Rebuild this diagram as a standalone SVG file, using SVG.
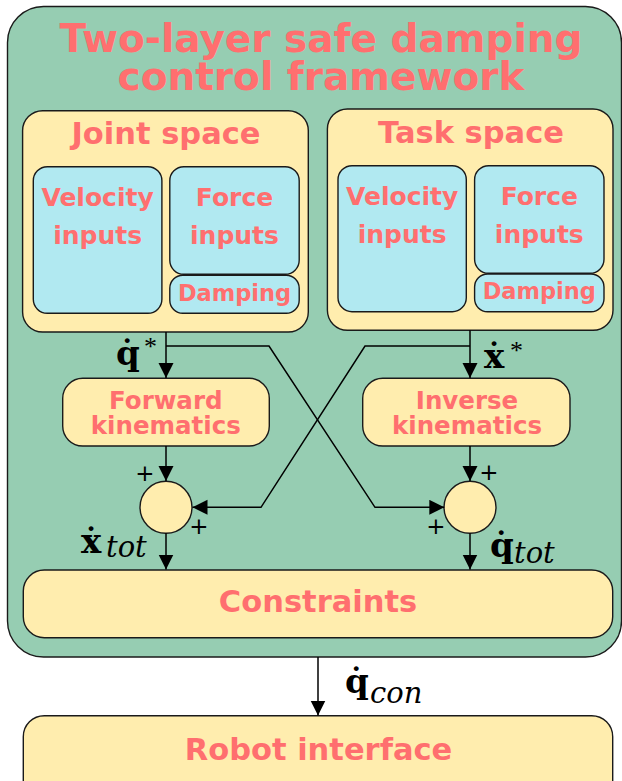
<svg xmlns="http://www.w3.org/2000/svg" width="622" height="781" viewBox="0 0 622 781">
  <style>
    .box { stroke: #1a1a1a; stroke-width: 1.4; }
    .green { fill: #96cdb2; }
    .yellow { fill: #ffedae; }
    .cyan { fill: #b1e9f1; }
    .lbl { font-family: "DejaVu Sans", "Liberation Sans", sans-serif; font-weight: bold; fill: #ff6f6f; text-anchor: middle; }
    .conn { fill: none; stroke: #000; stroke-width: 1.5; }
    .mb { font-family: "DejaVu Serif", "Liberation Serif", serif; font-weight: bold; font-size: 34px; fill: #000; }
    .mi { font-family: "DejaVu Serif", "Liberation Serif", serif; font-weight: normal; font-style: italic; font-size: 29px; }
    .star { font-family: "Liberation Serif", serif; font-weight: normal; font-size: 26px; }
    .plus { font-family: "DejaVu Sans", sans-serif; font-size: 23px; fill: #000; text-anchor: middle; }
  </style>
  <defs>
    <marker id="arrow" markerUnits="userSpaceOnUse" markerWidth="16" markerHeight="16" refX="15" refY="7.5" orient="auto">
      <path d="M0,0 L15,7.5 L0,15 z" fill="#000"/>
    </marker>
  </defs>

  <g id="framework">
    <rect class="box green" x="7.5" y="6.5" width="614" height="650.5" rx="36"/>
    <text class="lbl" x="321" y="52" font-size="39">Two-layer safe damping</text>
    <text class="lbl" x="321" y="90" font-size="39">control framework</text>
  </g>

  <g id="joint-space">
    <rect class="box yellow" x="22.6" y="110.7" width="285.7" height="221.3" rx="20"/>
    <text class="lbl" x="166" y="143.5" font-size="30.5">Joint space</text>
  </g>
  <g id="joint-velocity-inputs">
    <rect class="box cyan" x="33.3" y="166.7" width="128.6" height="146.6" rx="14"/>
    <text class="lbl" x="97.6" y="206" font-size="25">Velocity</text>
    <text class="lbl" x="97.6" y="244" font-size="25">inputs</text>
  </g>
  <g id="joint-force-inputs">
    <rect class="box cyan" x="169.8" y="166.7" width="129.4" height="107.6" rx="14"/>
    <text class="lbl" x="234.5" y="206" font-size="25">Force</text>
    <text class="lbl" x="234.5" y="244" font-size="25">inputs</text>
  </g>
  <g id="joint-damping">
    <rect class="box cyan" x="169.8" y="275.3" width="129.4" height="38" rx="13"/>
    <text class="lbl" x="234.5" y="300.5" font-size="22.5">Damping</text>
  </g>

  <g id="task-space">
    <rect class="box yellow" x="327.4" y="109" width="285.6" height="221.3" rx="20"/>
    <text class="lbl" x="471" y="142.5" font-size="30.5">Task space</text>
  </g>
  <g id="task-velocity-inputs">
    <rect class="box cyan" x="338" y="165.7" width="128.3" height="146" rx="14"/>
    <text class="lbl" x="402.2" y="204.7" font-size="25">Velocity</text>
    <text class="lbl" x="402.2" y="242.7" font-size="25">inputs</text>
  </g>
  <g id="task-force-inputs">
    <rect class="box cyan" x="474.6" y="165.7" width="129.4" height="107.6" rx="14"/>
    <text class="lbl" x="539.3" y="204.7" font-size="25">Force</text>
    <text class="lbl" x="539.3" y="242.7" font-size="25">inputs</text>
  </g>
  <g id="task-damping">
    <rect class="box cyan" x="474.6" y="274" width="129.4" height="37.7" rx="13"/>
    <text class="lbl" x="539.3" y="299" font-size="22.5">Damping</text>
  </g>

  <g id="forward-kinematics">
    <rect class="box yellow" x="62.7" y="378.3" width="206.6" height="67.7" rx="20"/>
    <text class="lbl" x="165.8" y="409.3" font-size="24.5">Forward</text>
    <text class="lbl" x="165.8" y="434" font-size="24.5">kinematics</text>
  </g>
  <g id="inverse-kinematics">
    <rect class="box yellow" x="362.7" y="378.3" width="207.3" height="67.7" rx="20"/>
    <text class="lbl" x="467" y="409.3" font-size="24.5">Inverse</text>
    <text class="lbl" x="467" y="434" font-size="24.5">kinematics</text>
  </g>

  <g id="sum-left">
    <circle class="box yellow" cx="166" cy="507.3" r="26"/>
  </g>
  <g id="sum-right">
    <circle class="box yellow" cx="470" cy="507.3" r="26"/>
  </g>

  <g id="constraints">
    <rect class="box yellow" x="23.3" y="570" width="589.4" height="67.7" rx="21"/>
    <text class="lbl" x="318" y="611.7" font-size="30.5">Constraints</text>
  </g>

  <g id="robot-interface">
    <rect class="box yellow" x="23.3" y="715.7" width="589.4" height="90" rx="21"/>
    <text class="lbl" x="318.5" y="760" font-size="30.5">Robot interface</text>
  </g>

  <g id="connectors">
    <line class="conn" x1="166" y1="332" x2="166" y2="378" marker-end="url(#arrow)"/>
    <polyline class="conn" points="166,346 269,346 375,507.3 444.3,507.3" marker-end="url(#arrow)"/>
    <line class="conn" x1="470" y1="330.3" x2="470" y2="378" marker-end="url(#arrow)"/>
    <polyline class="conn" points="470,346 365,346 261,507.3 192.5,507.3" marker-end="url(#arrow)"/>
    <line class="conn" x1="166" y1="446" x2="166" y2="481" marker-end="url(#arrow)"/>
    <line class="conn" x1="470" y1="446" x2="470" y2="481" marker-end="url(#arrow)"/>
    <line class="conn" x1="166" y1="533.3" x2="166" y2="569.5" marker-end="url(#arrow)"/>
    <line class="conn" x1="470" y1="533.3" x2="470" y2="569.5" marker-end="url(#arrow)"/>
    <line class="conn" x1="318" y1="657" x2="318" y2="715.5" marker-end="url(#arrow)"/>
  </g>

  <g id="labels">
    <text class="plus" x="145" y="481">+</text>
    <text class="plus" x="199" y="534">+</text>
    <text class="plus" x="489" y="480">+</text>
    <text class="plus" x="436" y="534">+</text>

    <text class="mb" x="116" y="365">q&#x307;<tspan class="star" x="144" y="355">*</tspan></text>
    <text class="mb" x="484" y="368">x&#x307;<tspan class="star" x="510" y="359">*</tspan></text>
    <text class="mb" x="81" y="553">x&#x307;<tspan class="mi" x="106" y="557">tot</tspan></text>
    <text class="mb" x="490" y="557">q&#x307;<tspan class="mi" x="514" y="563">tot</tspan></text>
    <text class="mb" x="345" y="693">q&#x307;<tspan class="mi" x="370" y="703">con</tspan></text>
  </g>
</svg>
